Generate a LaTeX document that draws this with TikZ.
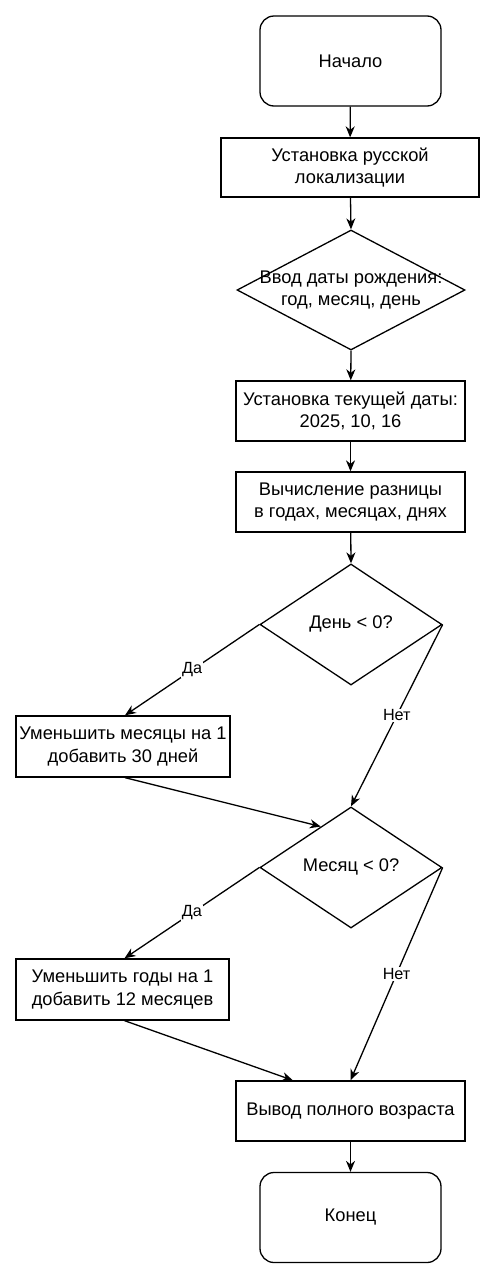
\documentclass[tikz,border=0pt]{standalone}
\usepackage{fontspec}
\setmainfont{Liberation Sans}
\usetikzlibrary{arrows.meta,shapes.geometric,calc}
\begin{document}
\begin{tikzpicture}[x=1pt,y=-1pt,
  every node/.style={font=\fontsize{18.3}{22.5}\selectfont, align=center},
  proc/.style={draw, line width=1.3pt, rectangle, inner sep=0pt},
  term/.style={draw, line width=1.3pt, rectangle, rounded corners=14pt, minimum width=181pt, minimum height=90pt, inner sep=0pt},
  dec/.style={draw, line width=1.3pt, diamond, inner sep=0pt},
  conn/.style={line width=1.3pt, -{Stealth[length=11pt,width=9pt,inset=3.5pt]}},
  elab/.style={fill=white, inner sep=1pt, font=\fontsize{16.2}{19}\selectfont}
]
\useasboundingbox (0,0) rectangle (496,1280);
\fill[white] (0,0) rectangle (496,1280);

\node[term] (start) at (350.5,61) {Начало};
\node[proc, minimum width=258pt, minimum height=59pt] (loc) at (350,167.5) {Установка русской\\локализации};
\node[dec, minimum width=228pt, minimum height=120pt] (inp) at (351,290) {};
\node at (351,290) {Ввод даты рождения:\\год, месяц, день};
\node[proc, minimum width=229pt, minimum height=60pt] (cur) at (350.5,411) {Установка текущей даты:\\2025, 10, 16};
\node[proc, minimum width=229pt, minimum height=60pt] (calc) at (350.5,502) {Вычисление разницы\\в годах, месяцах, днях};
\node[dec, minimum width=182pt, minimum height=121pt] (day) at (351,624.5) {};
\node at (351,624) {День < 0?};
\node[proc, minimum width=214pt, minimum height=61pt] (fixd) at (123,746.5) {Уменьшить месяцы на 1\\добавить 30 дней};
\node[dec, minimum width=182pt, minimum height=121pt] (mon) at (351,867.5) {};
\node at (351,867) {Месяц < 0?};
\node[proc, minimum width=213pt, minimum height=61pt] (fixm) at (122.5,989.5) {Уменьшить годы на 1\\добавить 12 месяцев};
\node[proc, minimum width=229pt, minimum height=60pt] (out) at (350.5,1111) {Вывод полного возраста};
\node[term] (end) at (350.5,1217.5) {Конец};

\coordinate (monin) at ($(mon.west)!0.67!(mon.north)$);
\coordinate (outin) at ($(out.north west)!0.25!(out.north east)$);

\draw[conn] (start) -- (loc);
\draw[conn] (loc) -- (inp.north);
\draw[conn] (inp.south) -- (cur);
\draw[conn] (cur) -- (calc);
\draw[conn] (calc) -- (day.north);
\draw[conn] (day.west) -- node[elab]{Да} ($(fixd.north)+(2,0)$);
\draw[conn] (day.east) -- node[elab]{Нет} (mon.north);
\draw[conn] ($(fixd.south)+(2,0)$) -- (monin);
\draw[conn] (mon.west) -- node[elab]{Да} ($(fixm.north)+(2,0)$);
\draw[conn] (mon.east) -- node[elab]{Нет} (out.north);
\draw[conn] ($(fixm.south)+(2,0)$) -- (outin);
\draw[conn] (out) -- (end);
\end{tikzpicture}
\end{document}
